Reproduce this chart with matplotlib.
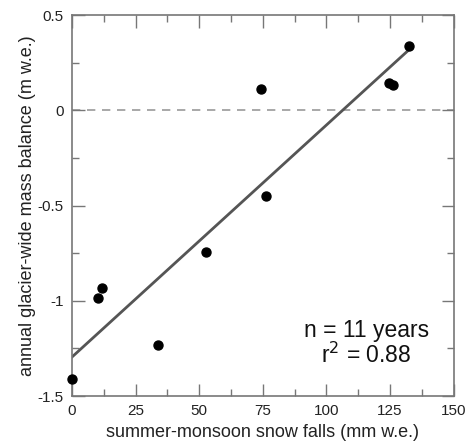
import numpy as np
import matplotlib
matplotlib.use("Agg")
import matplotlib.pyplot as plt
from matplotlib.ticker import MultipleLocator

plt.rcParams['font.family'] = ['Liberation Sans', 'DejaVu Sans']

# summer-monsoon snow falls (mm w.e.) vs annual glacier-wide mass balance (m w.e.)
snow_fall = [0.0, 10.3, 11.7, 33.9, 52.6, 74.2, 76.3, 124.7, 126.3, 132.5]
mass_balance = [-1.41, -0.986, -0.933, -1.23, -0.742, 0.11, -0.449, 0.145, 0.131, 0.337]

# regression line as drawn in the figure
fit_intercept = -1.295
fit_slope = 0.01218

x_ticks = [0, 25, 50, 75, 100, 125, 150]
y_ticks = [-1.5, -1, -0.5, 0, 0.5]
y_tick_labels = ['-1.5', '-1', '-0.5', '0', '0.5']

fig = plt.figure(figsize=(4.7, 4.45), dpi=100)
ax = fig.add_axes([0.1532, 0.110, 0.812, 0.856])

ax.axhline(0, color='#9a9a9a', lw=1.2, ls=(0, (5, 4)), zorder=1)

xs = np.array([min(snow_fall), max(snow_fall)])
ax.plot(xs, fit_intercept + fit_slope * xs, color='#555555', lw=2, zorder=2)

ax.scatter(snow_fall, mass_balance, s=42, color='black', zorder=3, clip_on=False)

ax.set_xlim(0, 150)
ax.set_ylim(-1.5, 0.5)
ax.set_xticks(x_ticks)
ax.set_yticks(y_ticks)
ax.set_yticklabels(y_tick_labels)
ax.xaxis.set_minor_locator(MultipleLocator(12.5))
ax.yaxis.set_minor_locator(MultipleLocator(0.25))

ax.tick_params(which='both', direction='in', top=True, right=True,
               color='#777777', labelsize=11, labelcolor='#222222')
ax.tick_params(which='major', length=9, width=1, pad=6)
ax.tick_params(which='minor', length=5, width=1)
for sp in ax.spines.values():
    sp.set_color('#777777')
    sp.set_linewidth(1.2)

ax.set_xlabel('summer-monsoon snow falls (mm w.e.)', fontsize=13, color='#222222', labelpad=4)
ax.set_ylabel('annual glacier-wide mass balance (m w.e.)', fontsize=13, color='#222222', labelpad=1)

ax.text(0.771, 0.173, 'n = 11 years', transform=ax.transAxes, ha='center', va='center',
        fontsize=16.5, color='#111111')
ax.text(0.771, 0.108, 'r$^{2}$ = 0.88', transform=ax.transAxes, ha='center', va='center',
        fontsize=16.5, color='#111111')

fig.savefig('out.png', dpi=100)
